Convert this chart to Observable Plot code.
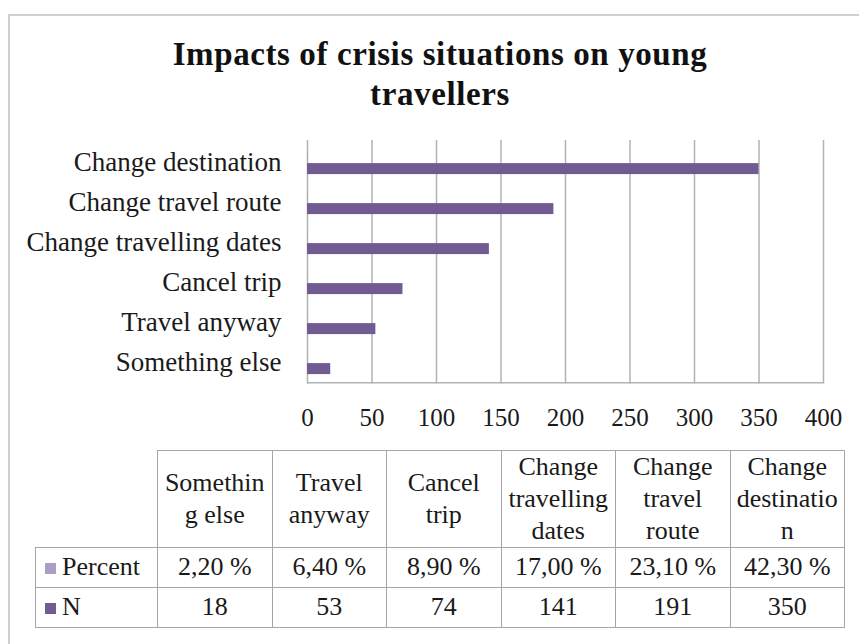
<!DOCTYPE html>
<html>
<head>
<meta charset="utf-8">
<script src="https://cdn.jsdelivr.net/npm/d3@7"></script>
<script src="https://cdn.jsdelivr.net/npm/@observablehq/plot@0.6"></script>
<style>
  html, body { margin: 0; padding: 0; background: #fff; }
  body { font-family: "Liberation Serif", "Times New Roman", serif; color: #1a1a1a; }
  #wrap { position: relative; width: 859px; height: 644px; overflow: hidden; }
  #border { position: absolute; left: 8px; top: 14px; width: 860px; height: 660px; border: 2px solid #cfcfcf; box-sizing: border-box; }
  #title { position: absolute; left: 0; width: 880px; top: 34px; text-align: center; font-weight: bold; font-size: 33px; line-height: 40px; letter-spacing: 0.6px; color: #111; }
  #chart { position: absolute; left: 0; top: 130px; }
  #table { position: absolute; left: 35px; top: 450px; border-collapse: collapse; font-size: 26px; color: #1a1a1a; table-layout: fixed; }
  #table td { border: 1px solid #a6a6a6; text-align: center; vertical-align: middle; padding: 0; white-space: nowrap; }
  #table td.hdr { line-height: 32px; }
  #table td.key { text-align: left; padding-left: 9px; }
  .sw { display: inline-block; width: 11px; height: 11px; margin-right: 6px; vertical-align: 1px; }
</style>
</head>
<body>
<div id="wrap">
  <div id="border"></div>
  <div id="title">Impacts of crisis situations on young<br>travellers</div>
  <div id="chart"></div>
</div>
<script>
// ---- data ----
const categories = ["Something else", "Travel anyway", "Cancel trip", "Change travelling dates", "Change travel route", "Change destination"];
const headerLines = [["Somethin", "g else"], ["Travel", "anyway"], ["Cancel", "trip"], ["Change", "travelling", "dates"], ["Change", "travel", "route"], ["Change", "destinatio", "n"]];
const nValues = [18, 53, 74, 141, 191, 350];
const percentValues = [0.022, 0.064, 0.089, 0.170, 0.231, 0.423];
const percentLabels = ["2,20 %", "6,40 %", "8,90 %", "17,00 %", "23,10 %", "42,30 %"];
const seriesNames = ["Percent", "N"];
const seriesColors = ["#ab9dc3", "#725a92"];
const xTicks = [0, 50, 100, 150, 200, 250, 300, 350, 400];

// ---- chart ----
const rows = categories.map((c, i) => ({category: c, n: nValues[i], pct: percentValues[i]}));
const H = 302, MT = 10, MB = 48.5;
const band = (H - MT - MB) / categories.length;

const chart = Plot.plot({
  width: 859,
  height: H,
  marginLeft: 307,
  marginRight: 36,
  marginTop: MT,
  marginBottom: MB,
  style: {fontFamily: '"Liberation Serif", "Times New Roman", serif', fontSize: "25px", color: "#1a1a1a", background: "transparent", overflow: "visible"},
  x: {domain: [0, 400]},
  y: {domain: categories.slice().reverse(), padding: 0},
  marks: [
    Plot.gridX({ticks: xTicks, stroke: "#b2b2b2", strokeOpacity: 1, strokeWidth: 1.5}),
    Plot.ruleY([categories[0]], {stroke: "#b2b2b2", strokeWidth: 1.5, dy: band / 2}),
    Plot.barX(rows, {x: "pct", y: "category", fill: seriesColors[0], insetTop: band * 0.24, insetBottom: band * 0.48}),
    Plot.barX(rows, {x: "n", y: "category", fill: seriesColors[1], insetTop: band * 0.52, insetBottom: band * 0.195}),
    Plot.axisX({ticks: xTicks, tickSize: 0, tickPadding: 24, fontSize: 25, label: null}),
    Plot.axisY({tickSize: 0, tickPadding: 26, fontSize: 27, label: null})
  ]
});
document.getElementById("chart").appendChild(chart);

// ---- data table ----
const table = document.createElement("table");
table.id = "table";
const colW = [122, 114.5, 114.5, 114.5, 114.5, 114.5, 114.5];
const cg = document.createElement("colgroup");
colW.forEach(w => { const c = document.createElement("col"); c.style.width = w + "px"; cg.appendChild(c); });
table.appendChild(cg);

const hr = document.createElement("tr");
hr.style.height = "96px";
const blank = document.createElement("td");
blank.style.border = "none";
hr.appendChild(blank);
headerLines.forEach(lines => {
  const td = document.createElement("td");
  td.className = "hdr";
  td.innerHTML = lines.join("<br>");
  hr.appendChild(td);
});
table.appendChild(hr);

const seriesRows = [percentLabels, nValues.map(String)];
const rowH = [39.5, 40.5];
seriesNames.forEach((name, s) => {
  const tr = document.createElement("tr");
  tr.style.height = rowH[s] + "px";
  const key = document.createElement("td");
  key.className = "key";
  key.innerHTML = `<span class="sw" style="background:${seriesColors[s]}"></span>${name}`;
  tr.appendChild(key);
  seriesRows[s].forEach(v => {
    const td = document.createElement("td");
    td.textContent = v;
    tr.appendChild(td);
  });
  table.appendChild(tr);
});
document.getElementById("wrap").appendChild(table);
</script>
</body>
</html>
